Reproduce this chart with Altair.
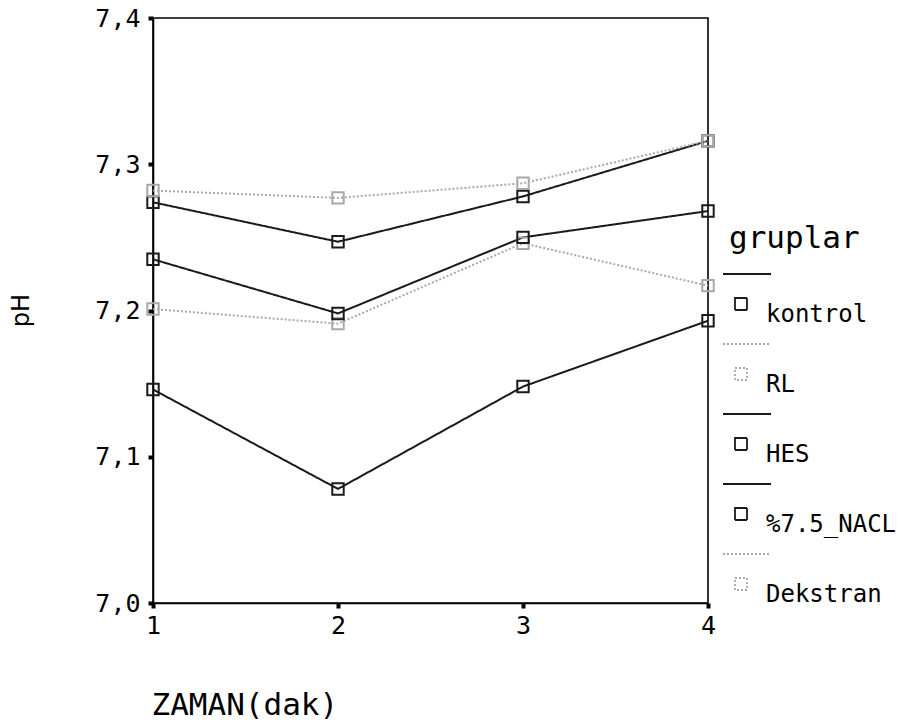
import altair as alt
import pandas as pd

zaman = [1, 2, 3, 4]
groups = ["kontrol", "RL", "HES", "%7.5_NACL", "Dekstran"]
kontrol = [7.274, 7.247, 7.278, 7.316]
rl = [7.201, 7.191, 7.246, 7.217]
hes = [7.235, 7.198, 7.250, 7.268]
nacl = [7.146, 7.078, 7.148, 7.193]
dekstran = [7.282, 7.277, 7.287, 7.316]

series = {"kontrol": kontrol, "RL": rl, "HES": hes, "%7.5_NACL": nacl, "Dekstran": dekstran}
rows = []
for g in groups:
    for t, v in zip(zaman, series[g]):
        rows.append({"ZAMAN": t, "pH": v, "grup": g})
df = pd.DataFrame(rows)

dark = "#1a1a1a"
light = "#a8a8a8"
colors = [dark, light, dark, dark, light]
dashes = [[1, 0], [2, 2], [1, 0], [1, 0], [2, 2]]

mono = "DejaVu Sans Mono"

legend_symbol = "M-1,-2.83 H1 V-0.83 H-1 Z M-3,-6.83 H5"

x_enc = alt.X("ZAMAN:Q",
              scale=alt.Scale(domain=[1, 4], nice=False, zero=False),
              axis=alt.Axis(values=[1, 2, 3, 4], format="d", title="ZAMAN(dak)",
                            grid=False, titleAnchor="start", titleAlign="left",
                            titleX=-2, titleY=102, titleBaseline="middle",
                            titleFont=mono, titleFontSize=31, titleFontWeight="normal",
                            labelFont=mono, labelFontSize=25, labelPadding=5,
                            labelFlush=False,
                            tickSize=5, tickWidth=4, tickColor="black",
                            domainColor="black", domainWidth=1.6, labelColor="black",
                            titleColor="black"))
y_enc = alt.Y("pH:Q",
              scale=alt.Scale(domain=[7.0, 7.4], nice=False, zero=False),
              axis=alt.Axis(values=[7.0, 7.1, 7.2, 7.3, 7.4], title="pH",
                            labelExpr="replace(format(datum.value, '.1f'), '.', ',')",
                            grid=False, titleX=-132, titleY=292, titleAngle=-90,
                            titleAlign="center", titleBaseline="middle",
                            titleFont="DejaVu Sans", titleFontSize=24, titleFontWeight="normal",
                            labelFont=mono, labelFontSize=25, labelPadding=8,
                            labelFlush=False,
                            tickSize=5, tickWidth=4, tickColor="black",
                            domainColor="black", domainWidth=1.6, labelColor="black",
                            titleColor="black"))

color_scale = alt.Scale(domain=groups, range=colors)
dash_scale = alt.Scale(domain=groups, range=dashes)

lines = alt.Chart(df).mark_line(strokeWidth=2).encode(
    x=x_enc, y=y_enc,
    color=alt.Color("grup:N", scale=color_scale, sort=groups, title="gruplar",
                    legend=alt.Legend(orient="none", legendX=576, legendY=206,
                                      symbolType=legend_symbol, symbolSize=144,
                                      symbolStrokeWidth=1.8, symbolFillColor="transparent",
                                      titleFont=mono, titleFontSize=31, titleFontWeight="normal",
                                      titleColor="black", titlePadding=48,
                                      labelFont=mono, labelFontSize=24, labelColor="black",
                                      labelOffset=13, rowPadding=13, padding=0)),
    strokeDash=alt.StrokeDash("grup:N", scale=dash_scale, sort=groups, title="gruplar"),
    detail="grup:N",
)

points = alt.Chart(df).mark_point(shape="square", filled=False, size=130, strokeWidth=2,
                                  opacity=1).encode(
    x="ZAMAN:Q", y="pH:Q",
    color=alt.Color("grup:N", scale=color_scale, legend=None),
)

chart = alt.layer(lines, points).properties(
    width=555, height=585,
    autosize=alt.AutoSizeParams(type="none"),
    padding={"left": 153, "top": 18, "right": 195, "bottom": 119},
    background="white",
).configure_view(stroke="black", strokeWidth=1.6)

chart.save("out.html", embed_options={"renderer": "svg", "actions": False})
